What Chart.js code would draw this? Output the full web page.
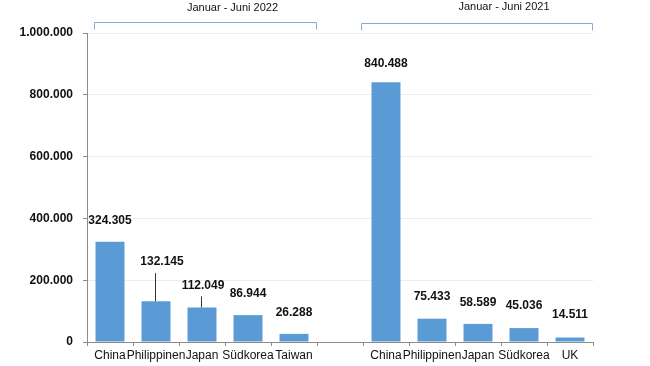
<!DOCTYPE html>
<html>
<head>
<meta charset="utf-8">
<script src="https://cdn.jsdelivr.net/npm/chart.js@4"></script>
<style>
    html, body { margin: 0; padding: 0; background: #fff; }
    #wrap { width: 650px; height: 366px; position: relative; }
</style>
</head>
<body>
<div id="wrap"><canvas id="chart"></canvas></div>
<script>
const categories = ['China', 'Philippinen', 'Japan', 'Südkorea', 'Taiwan', '', 'China', 'Philippinen', 'Japan', 'Südkorea', 'UK']
const values_2022 = [324305, 132145, 112049, 86944, 26288]
const values_2021 = [840488, 75433, 58589, 45036, 14511]
const group_titles = ['Januar - Juni 2022', 'Januar - Juni 2021']
const group_ranges = [[0, 4], [6, 10]]
const y_ticks = [0, 200000, 400000, 600000, 800000, 1000000]

const COLORS = {
    bar: '#5b9bd5',
    axis: '#8c8c8c',
    grid: '#ececec',
    text: '#111111',
    bracket: '#86acd6'
}
// german thousands separator
function fmt(v){
    return String(v).replace(/\B(?=(\d{3})+(?!\d))/g, '.')
}
const values = [...values_2022, null, ...values_2021]

// label lift above bar top, leader line for the crowded ones
const label_lift = [21, 39, 22, 21, 21, 0, 19, 22, 21, 22, 23]
const label_dx = [0, 6, 1, 0, 0, 0, 0, 0, 0, 0, 0]
const leaders = [1, 2]

const valueLabels = {
    id: 'valueLabels',
    afterDatasetsDraw(chart){
        const ctx = chart.ctx
        const meta = chart.getDatasetMeta(0)
        ctx.save()
        ctx.font = 'bold 12px "Liberation Sans", Arial, sans-serif'
        ctx.fillStyle = COLORS.text
        ctx.textAlign = 'center'
        ctx.textBaseline = 'middle'
        meta.data.forEach((bar, i) => {
            const v = values[i]
            if(v === null) return
            const y = bar.y - label_lift[i]
            ctx.fillText(fmt(v), bar.x + label_dx[i], y)
            if(leaders.includes(i)){
                ctx.strokeStyle = '#333'
                ctx.lineWidth = 1
                ctx.beginPath()
                ctx.moveTo(Math.round(bar.x) - 0.5, y + 11)
                ctx.lineTo(Math.round(bar.x) - 0.5, bar.y)
                ctx.stroke()
            }
        })
        ctx.restore()
    }
}
const groupBrackets = {
    id: 'groupBrackets',
    afterDraw(chart){
        const ctx = chart.ctx
        const x = chart.scales.x
        const half = (x.getPixelForValue(1) - x.getPixelForValue(0)) / 2
        ctx.save()
        group_ranges.forEach((r, g) => {
            const left = x.getPixelForValue(r[0]) - half + (g === 0 ? 7 : -2)
            const right = x.getPixelForValue(r[1]) + half
            const top = g === 0 ? 22.5 : 23.5
            ctx.strokeStyle = COLORS.bracket
            ctx.lineWidth = 1
            ctx.beginPath()
            ctx.moveTo(left + 0.5, top + 7)
            ctx.lineTo(left + 0.5, top)
            ctx.lineTo(right - 0.5, top)
            ctx.lineTo(right - 0.5, top + 7)
            ctx.stroke()
            ctx.font = '11px "Liberation Sans", Arial, sans-serif'
            ctx.fillStyle = '#111'
            ctx.textAlign = 'center'
            ctx.textBaseline = 'middle'
            ctx.fillText(group_titles[g], (left + right) / 2 + 27, g === 0 ? 8 : 7)
        })
        ctx.restore()
    }
}

const config = {
    type: 'bar',
    data: {
        labels: categories,
        datasets: [{
            data: values,
            backgroundColor: COLORS.bar,
            borderWidth: 0,
            barPercentage: 0.63,
            categoryPercentage: 1
        }]
    },
    options: {
        responsive: true,
        maintainAspectRatio: false,
        animation: false,
        layout: { padding: { top: 33, right: 57, left: 0, bottom: 0 } },
        plugins: {
            legend: { display: false },
            tooltip: { enabled: false }
        },
        scales: {
            x: {
                offset: true,
                grid: {
                    offset: true,
                    drawOnChartArea: false,
                    tickLength: 4,
                    tickColor: COLORS.axis
                },
                border: { color: COLORS.axis },
                ticks: {
                    autoSkip: false,
                    maxRotation: 0,
                    minRotation: 0,
                    padding: 2,
                    color: '#111',
                    font: { family: '"Liberation Sans", Arial, sans-serif', size: 12 }
                },
                afterFit(scale){ scale.height = 24 }
            },
            y: {
                min: 0,
                max: 1000000,
                afterBuildTicks(scale){ scale.ticks = y_ticks.map(v => ({ value: v })) },
                grid: {
                    color: COLORS.grid,
                    tickLength: 4,
                    tickColor: COLORS.axis
                },
                border: { color: COLORS.axis },
                ticks: {
                    padding: 10,
                    color: '#111',
                    font: { family: '"Liberation Sans", Arial, sans-serif', size: 12, weight: 'bold' },
                    callback: v => fmt(v)
                },
                afterFit(scale){ scale.width = 87 }
            }
        }
    },
    plugins: [valueLabels, groupBrackets]
}
new Chart(document.getElementById('chart').getContext('2d'), config)
</script>
</body>
</html>
